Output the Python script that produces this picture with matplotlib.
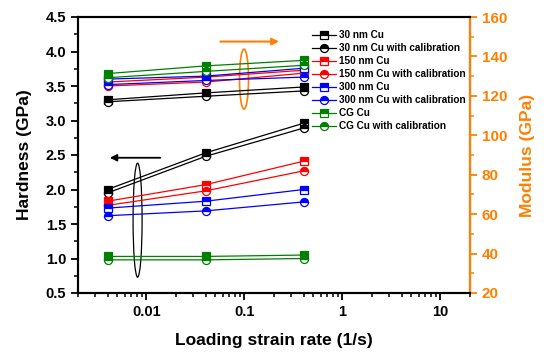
import matplotlib
matplotlib.use("Agg")
import matplotlib.pyplot as plt
from matplotlib.patches import Ellipse
from matplotlib.ticker import FixedLocator, FuncFormatter, MultipleLocator, LogLocator, NullFormatter

plt.rcParams['font.family'] = ['Liberation Sans', 'DejaVu Sans']
plt.rcParams['font.weight'] = 'bold'

rates = [0.004, 0.04, 0.4]
series = ["30 nm Cu", "150 nm Cu", "300 nm Cu", "CG Cu"]
colors = ["black", "red", "blue", "#008000"]

hard_raw = [[2.00, 2.53, 2.96],
            [1.83, 2.07, 2.41],
            [1.73, 1.83, 2.00],
            [1.03, 1.03, 1.05]]
hard_cal = [[1.95, 2.48, 2.89],
            [1.77, 1.98, 2.27],
            [1.62, 1.69, 1.82],
            [0.98, 0.98, 1.00]]
mod_raw = [[118.0, 121.5, 124.5],
           [127.0, 129.5, 133.0],
           [128.5, 130.0, 134.0],
           [131.3, 135.2, 138.0]]
mod_cal = [[117.0, 119.8, 122.5],
           [125.0, 127.0, 131.5],
           [125.7, 127.8, 129.5],
           [129.2, 132.4, 135.5]]

orange = "#FF8000"

fig = plt.figure(figsize=(5.5, 3.62), dpi=100)
ax = fig.add_axes([78/550, 1-293/362, 392/550, 276/362])
ax2 = ax.twinx()

ms = 5.8
handles = []
for i, name in enumerate(series):
    c = colors[i]
    kw = dict(color=c, lw=0.9, markersize=ms, fillstyle='top',
              markerfacecolor=c, markerfacecoloralt='white', markeredgecolor=c, markeredgewidth=0.9)
    h1, = ax.plot(rates, hard_raw[i], marker='s', **kw)
    h2, = ax.plot(rates, hard_cal[i], marker='o', **kw)
    ax2.plot(rates, mod_raw[i], marker='s', **kw)
    ax2.plot(rates, mod_cal[i], marker='o', **kw)
    h1.set_label(name)
    h2.set_label(name + " with calibration")
    handles += [h1, h2]

ax.set_xscale('log')
ax.set_xlim(0.002, 20)
ax.set_ylim(0.5, 4.5)
ax2.set_ylim(20, 160)

ax.xaxis.set_major_locator(FixedLocator([0.01, 0.1, 1, 10]))
ax.xaxis.set_major_formatter(FuncFormatter(lambda v, p: {0.01: "0.01", 0.1: "0.1", 1: "1", 10: "10"}.get(round(v, 4), "")))
ax.xaxis.set_minor_locator(LogLocator(base=10, subs=range(2, 10), numticks=20))
ax.xaxis.set_minor_formatter(NullFormatter())
ax.yaxis.set_major_locator(MultipleLocator(0.5))
ax.yaxis.set_minor_locator(MultipleLocator(0.25))
ax.yaxis.set_major_formatter(FuncFormatter(lambda v, p: f"{v:.1f}"))
ax2.yaxis.set_major_locator(MultipleLocator(20))
ax2.yaxis.set_minor_locator(MultipleLocator(10))

for a in (ax, ax2):
    for s in a.spines.values():
        s.set_linewidth(1.5)
ax2.spines['right'].set_color(orange)
ax.tick_params(axis='both', which='major', direction='out', length=5, width=1.3, labelsize=10.5)
ax.tick_params(axis='both', which='minor', direction='out', length=3, width=1.1)
ax2.tick_params(axis='y', which='major', direction='out', length=5, width=1.3, colors=orange, labelsize=11)
ax2.tick_params(axis='y', which='minor', direction='out', length=3, width=1.1, colors=orange)
for lab in ax.get_xticklabels() + ax.get_yticklabels():
    lab.set_fontweight('bold')
for lab in ax2.get_yticklabels():
    lab.set_fontweight('bold')
    lab.set_color(orange)

ax.set_xlabel("Loading strain rate (1/s)", fontsize=12.5, fontweight='bold', labelpad=10)
ax.set_ylabel("Hardness (GPa)", fontsize=12.5, fontweight='bold', labelpad=10)
ax2.set_ylabel("Modulus (GPa)", fontsize=12.5, fontweight='bold', color=orange, labelpad=9)

leg = ax.legend(handles=handles, loc='upper left', bbox_to_anchor=(0.585, 0.97), frameon=False,
                handlelength=2.4, labelspacing=0.3, borderpad=0, handletextpad=0.3,
                prop={'weight': 'bold', 'size': 7.2})

# annotations
ax.add_patch(Ellipse((0.152, 0.264), 0.023, 0.413, transform=ax.transAxes, fill=False, ec='black', lw=0.9))
ax.add_patch(Ellipse((0.4235, 0.775), 0.023, 0.217, transform=ax.transAxes, fill=False, ec=orange, lw=1.2))
ax.annotate("", xy=(0.074, 0.49), xytext=(0.217, 0.49), xycoords='axes fraction',
            arrowprops=dict(arrowstyle='-|>', color='black', lw=1.3, mutation_scale=10))
ax.annotate("", xy=(0.52, 0.911), xytext=(0.356, 0.911), xycoords='axes fraction',
            arrowprops=dict(arrowstyle='-|>', color=orange, lw=1.5, mutation_scale=10))

fig.savefig("out.png", dpi=100)
